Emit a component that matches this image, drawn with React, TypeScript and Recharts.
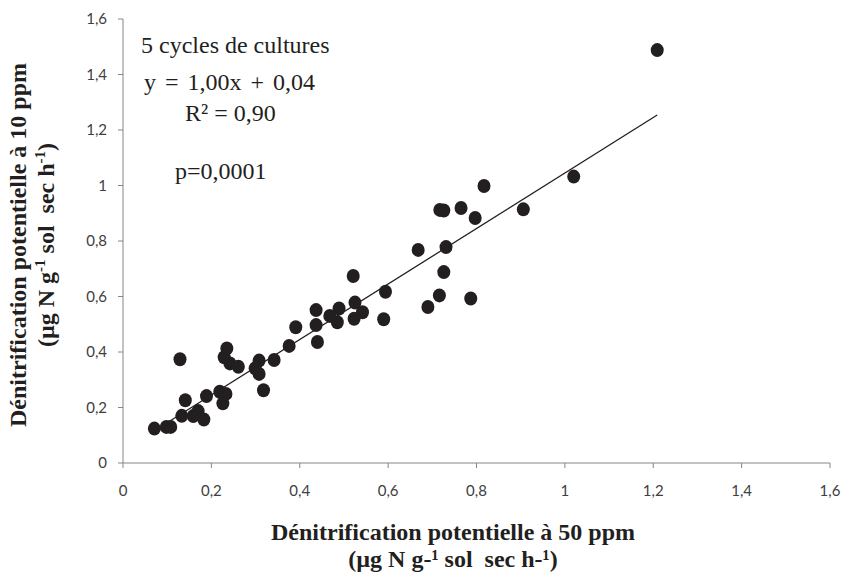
import { ScatterChart, Scatter, XAxis, YAxis } from "recharts";

// Dénitrification potentielle à 50 ppm (x) vs à 10 ppm (y)
const x50 = [
  0.071, 0.098, 0.108, 0.129, 0.133, 0.141, 0.159, 0.17, 0.183, 0.189,
  0.219, 0.226, 0.233, 0.229, 0.235, 0.242, 0.261, 0.299, 0.308, 0.308,
  0.318, 0.342, 0.376, 0.391, 0.437, 0.437, 0.44, 0.468, 0.489, 0.485,
  0.521, 0.525, 0.523, 0.542, 0.594, 0.59, 0.69, 0.716, 0.726, 0.787,
  0.668, 0.731, 0.717, 0.726, 0.765, 0.797, 0.817, 0.906, 1.02, 1.209,
];
const y10 = [
  0.124, 0.13, 0.13, 0.374, 0.17, 0.226, 0.169, 0.187, 0.157, 0.241,
  0.257, 0.215, 0.249, 0.381, 0.413, 0.359, 0.347, 0.341, 0.369, 0.321,
  0.262, 0.371, 0.422, 0.489, 0.551, 0.497, 0.436, 0.53, 0.557, 0.507,
  0.674, 0.578, 0.52, 0.543, 0.617, 0.518, 0.562, 0.604, 0.688, 0.593,
  0.768, 0.778, 0.912, 0.91, 0.919, 0.883, 0.998, 0.914, 1.032, 1.488,
];
const ticks = [0, 0.2, 0.4, 0.6, 0.8, 1, 1.2, 1.4, 1.6];

const slope = 1.0;
const intercept = 0.045;

const points = x50.map((x, i) => ({ x, y: y10[i] }));
const xMin = Math.min(...x50);
const xMax = Math.max(...x50);
const trend = [xMin, xMax].map((x) => ({ x, y: slope * x + intercept }));

const fmt = (v: number) => String(v).replace(".", ",");

const Dot = (props: any) => (
  <ellipse cx={props.cx} cy={props.cy} rx={6.5} ry={7} fill="#231f20" />
);

const serif = "'Liberation Serif', 'Times New Roman', serif";
const tickStyle = { fontFamily: "Lato, sans-serif", fontSize: 15, fill: "#404040" };
const note = { position: "absolute" as const, fontFamily: serif, fontSize: 24, color: "#231f20", lineHeight: "28px", whiteSpace: "nowrap" as const };

export default function App() {
  return (
    <div style={{ position: "absolute", left: 0, top: 0, width: 842, height: 577, background: "#fff" }}>
      <ScatterChart width={842} height={577} margin={{ top: 19, right: 12, bottom: 0, left: 0 }}>
        <XAxis
          type="number"
          dataKey="x"
          domain={[0, 1.6]}
          ticks={ticks}
          tickFormatter={fmt}
          height={114}
          stroke="#868686"
          tickSize={5}
          tickMargin={17}
          tick={tickStyle}
        />
        <YAxis
          type="number"
          dataKey="y"
          domain={[0, 1.6]}
          ticks={ticks}
          tickFormatter={fmt}
          width={123}
          stroke="#868686"
          tickSize={5}
          tickMargin={11}
          tick={tickStyle}
        />
        <Scatter
          data={trend}
          line={{ stroke: "#231f20", strokeWidth: 1.3 }}
          shape={() => null}
          isAnimationActive={false}
        />
        <Scatter data={points} shape={Dot} isAnimationActive={false} />
      </ScatterChart>

      <div style={{ ...note, left: 141, top: 31 }}>5 cycles de cultures</div>
      <div style={{ ...note, left: 144, top: 68, wordSpacing: 3 }}>y = 1,00x + 0,04</div>
      <div style={{ ...note, left: 185, top: 99 }}>R² = 0,90</div>
      <div style={{ ...note, left: 175, top: 157 }}>p=0,0001</div>

      <div
        style={{
          position: "absolute",
          left: 53,
          width: 800,
          top: 519,
          textAlign: "center",
          fontFamily: serif,
          fontWeight: "bold",
          fontSize: 24,
          color: "#231f20",
          lineHeight: "27px",
        }}
      >
        Dénitrification potentielle à 50 ppm
        <br />
        (µg N g-¹ sol&nbsp; sec h-¹)
      </div>

      <div
        style={{
          position: "absolute",
          left: 32,
          top: 245,
          width: 480,
          transform: "translate(-50%, -50%) rotate(-90deg)",
          textAlign: "center",
          fontFamily: serif,
          fontWeight: "bold",
          fontSize: 24,
          color: "#231f20",
          lineHeight: "28px",
        }}
      >
        Dénitrification potentielle à 10 ppm
        <br />
        (µg N g<sup style={{ fontSize: 15, lineHeight: 0 }}>-1</sup> sol&nbsp; sec h<sup style={{ fontSize: 15, lineHeight: 0 }}>-1</sup>)
      </div>
    </div>
  );
}
